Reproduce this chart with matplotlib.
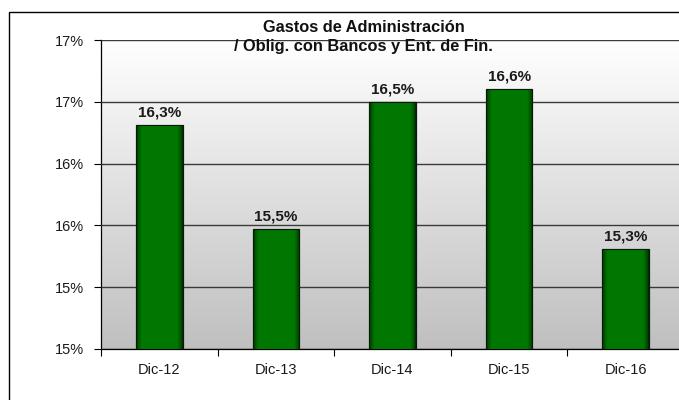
import math
import numpy as np
import matplotlib
matplotlib.use("Agg")
import matplotlib.pyplot as plt
from matplotlib.patches import Rectangle
from matplotlib.ticker import FuncFormatter, MultipleLocator

# Ratio of administrative expenses to obligations with banks and financial entities (%)
categories = ["Dic-12", "Dic-13", "Dic-14", "Dic-15", "Dic-16"]
values = [16.31, 15.47, 16.50, 16.60, 15.31]
y_min, y_max, y_step = 14.5, 17.0, 0.5

plt.rcParams["font.family"] = ["Liberation Sans Narrow", "Liberation Sans", "DejaVu Sans"]

fig = plt.figure(figsize=(6.79, 4.0), dpi=100)
fig.patch.set_facecolor("white")

# Outer chart frame
fig.patches.append(Rectangle((9 / 679, -0.2), 1.2, 0.97 + 0.2, transform=fig.transFigure,
                             fill=False, edgecolor="black", linewidth=1.0))

ax = fig.add_axes([101 / 679, 51 / 400, 583 / 679, 309 / 400])
x = np.arange(len(categories))
ax.set_xlim(-0.5, len(categories) - 0.5)
ax.set_ylim(y_min, y_max)

# Vertical gray gradient for the plot area
grad = np.linspace(1.0, 0.0, 256).reshape(-1, 1)
top_c = np.array([1.0, 1.0, 1.0])
bot_c = np.array([0.75, 0.75, 0.75])
bg = grad[..., None] * top_c + (1 - grad[..., None]) * bot_c
ax.imshow(bg, extent=(-0.5, len(categories) - 0.5, y_min, y_max), aspect="auto",
          origin="upper", zorder=0, interpolation="bilinear")

ax.yaxis.set_major_locator(MultipleLocator(y_step))
ax.yaxis.set_major_formatter(FuncFormatter(lambda v, p: f"{math.floor(v + 0.5 + 1e-9):d}%"))
ax.grid(axis="y", color="#3a3a3a", linewidth=1.0, zorder=1)
ax.set_axisbelow(False)

bars = ax.bar(x, values, width=0.40, bottom=0, color="#007800", edgecolor="#0a1a0a",
              linewidth=0.8, zorder=3)

# Horizontal shading inside each bar (dark edges, bright middle)
t = np.linspace(0, 1, 64)
shade = np.clip(np.minimum(t, 1 - t) / 0.12, 0, 1) ** 0.6
dark = np.array([0.0, 0.15, 0.0])
mid = np.array([0.0, 0.47, 0.0])
bar_img = (shade[:, None] * mid + (1 - shade[:, None]) * dark)[None, :, :]
for b in bars:
    x0 = b.get_x()
    im = ax.imshow(bar_img, extent=(x0, x0 + b.get_width(), y_min, b.get_height()),
                   aspect="auto", zorder=3.5, interpolation="bilinear")
    im.set_clip_path(b)
    ax.bar(b.get_x() + b.get_width() / 2, b.get_height(), width=b.get_width(),
           fill=False, edgecolor="#0a1a0a", linewidth=0.8, zorder=4)

for xi, v in zip(x, values):
    ax.annotate(f"{v:.1f}%".replace(".", ","), (xi, v), xytext=(0, 4),
                textcoords="offset points", ha="center", va="bottom",
                fontsize=11, fontweight="bold", color="#1a1a1a", zorder=5)

ax.set_xticks(x)
ax.set_xticklabels(categories)
ax.set_xticks(np.arange(-0.5, len(categories) + 0.5, 1.0), minor=True)
ax.tick_params(axis="x", which="major", length=0, pad=10, labelsize=10.5, labelcolor="#1a1a1a")
ax.tick_params(axis="x", which="minor", length=5, width=0.8, color="black", direction="out")
ax.tick_params(axis="y", length=5, width=0.8, color="black", labelsize=10.5,
               labelcolor="#1a1a1a", pad=7)

for s in ["top", "right"]:
    ax.spines[s].set_visible(False)
ax.spines["left"].set_color("black")
ax.spines["bottom"].set_color("black")
ax.spines["left"].set_linewidth(0.9)
ax.spines["bottom"].set_linewidth(0.9)

fig.text(364 / 679, 1 - 27 / 400, "Gastos de Administración", ha="center", va="center",
         fontsize=11.8, fontweight="bold", color="#111111")
fig.text(363 / 679, 1 - 47 / 400, "/ Oblig. con Bancos y Ent. de Fin.", ha="center",
         va="center", fontsize=11.8, fontweight="bold", color="#111111")

fig.savefig("out.png", dpi=100)
